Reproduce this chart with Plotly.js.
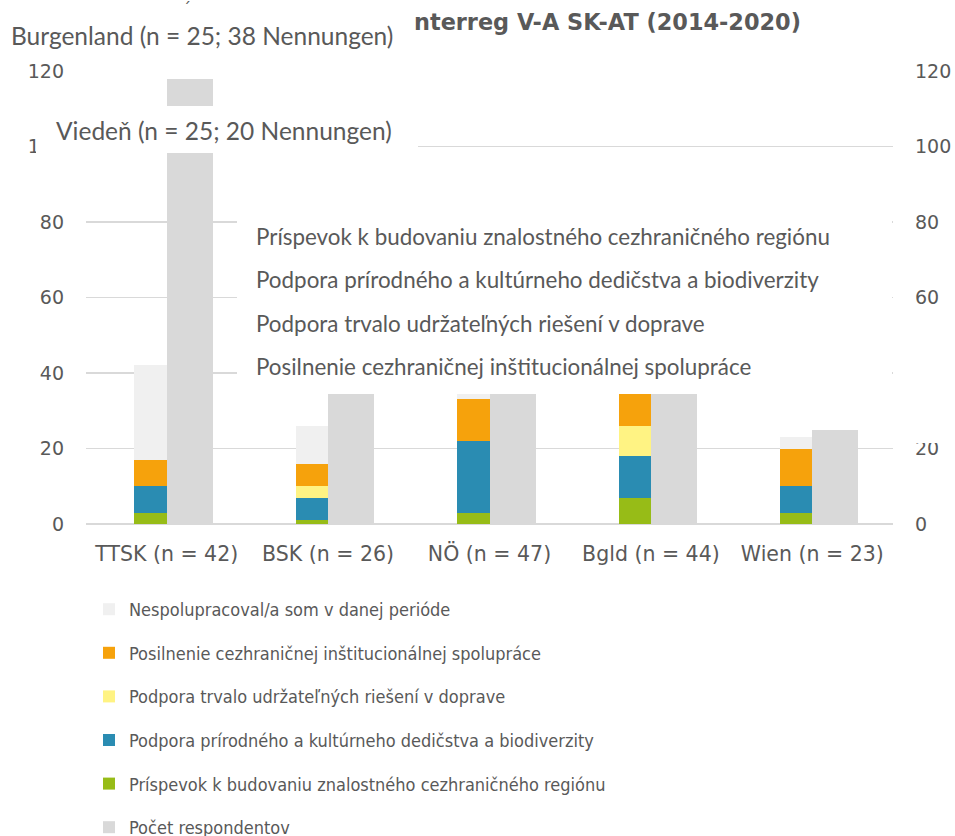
<!DOCTYPE html>
<html>
<head>
<meta charset="utf-8">
<script src="https://cdn.plot.ly/plotly-3.0.1.min.js"></script>
<style>html,body{margin:0;padding:0;background:#fff}#chart{width:955px;height:836px}</style>
</head>
<body>
<div id="chart"></div>
<script>
// ---- data ----
const categories = ["TTSK (n = 42)", "BSK (n = 26)", "NÖ (n = 47)", "Bgld (n = 44)", "Wien (n = 23)"];
const prispevok   = [3, 1, 3, 7, 3];        // Príspevok k budovaniu znalostného cezhraničného regiónu
const prirodne    = [7, 6, 19, 11, 7];      // Podpora prírodného a kultúrneho dedičstva a biodiverzity
const doprava     = [0, 3, 0, 8, 0];        // Podpora trvalo udržateľných riešení v doprave
const institucie  = [7, 6, 11, 8.5, 10];    // Posilnenie cezhraničnej inštitucionálnej spolupráce
const nespoluprac = [25, 10, 1.5, 0, 3];    // Nespolupracoval/a som v danej perióde
const respondenti = [118, 34.5, 34.5, 34.5, 25]; // Počet respondentov (visible heights)
const yTicks = [0, 20, 40, 60, 80, 100, 120];

const boxLines = [
  "Príspevok k budovaniu znalostného cezhraničného regiónu",
  "Podpora prírodného a kultúrneho dedičstva a biodiverzity",
  "Podpora trvalo udržateľných riešení v doprave",
  "Posilnenie cezhraničnej inštitucionálnej spolupráce"
];

// ---- layout helpers (plot area in pixels) ----
const W = 955, H = 836;
const PL = 86, PR = 893, PT = 71, PB = 524;
const px = v => (v - PL) / (PR - PL);
const py = v => (PB - v) / (PB - PT);

const TXT = "#595959";
const tickFont = {family: "DejaVu Sans, sans-serif", size: 19, color: TXT};
const catFont = {family: "DejaVu Sans, sans-serif", size: 20.5, color: TXT};
const boxFont = {family: "Lato, sans-serif", size: 24.5, color: TXT};

function stackTrace(name, vals, color, rank) {
  return {type: "bar", name: name, x: categories, y: vals, xaxis: "x", yaxis: "y",
    marker: {color: color, line: {width: 0}}, width: 0.2, offset: -0.2,
    legendgroup: name, legendrank: rank, hoverinfo: "skip"};
}

const traces = [
  stackTrace("Príspevok k budovaniu znalostného cezhraničného regiónu", prispevok, "#97BC17", 5),
  stackTrace("Podpora prírodného a kultúrneho dedičstva a biodiverzity", prirodne, "#2A8CB2", 4),
  stackTrace("Podpora trvalo udržateľných riešení v doprave", doprava, "#FFF383", 3),
  stackTrace("Posilnenie cezhraničnej inštitucionálnej spolupráce", institucie, "#F6A20C", 2),
  stackTrace("Nespolupracoval/a som v danej perióde", nespoluprac, "#F0F0F0", 1),
  {type: "bar", name: "Počet respondentov", x: categories, y: respondenti, xaxis: "x", yaxis: "y2",
    marker: {color: "#D9D9D9", line: {width: 0}}, width: 0.285, offset: 0,
    legendgroup: "resp", legendrank: 6, hoverinfo: "skip"}
];

const shapes = [];
const annotations = [];
function whiteBox(x0, y0, x1, y1) {
  shapes.push({type: "rect", xref: "paper", yref: "paper", layer: "above",
    x0: px(x0), x1: px(x1), y0: py(y1), y1: py(y0), fillcolor: "#FFFFFF", line: {width: 0}});
}
function label(text, x, y, font) {
  annotations.push({text: text, xref: "paper", yref: "paper", x: px(x), y: py(y),
    xanchor: "left", yanchor: "middle", showarrow: false, font: font});
}

// text boxes overlaid on the chart
whiteBox(0, 0, 416, 57);
label("Burgenland (n = 25; 38 Nennungen)", 9, 35, boxFont);
whiteBox(36, 106, 418, 153);
label("Viedeň (n = 25; 20 Nennungen)", 54, 130, boxFont);
whiteBox(237, 160, 892, 394);
whiteBox(893, 320, 955, 443);
const lineY = [236, 279, 323, 366];
boxLines.forEach((t, i) => label(t, 254, lineY[i], {family: "Lato, sans-serif", size: 22.4, color: TXT}));
// stray accent of the hidden title start
label("´", 181, 9, {family: "DejaVu Sans, sans-serif", size: 16, color: TXT});

const layout = {
  width: W, height: H,
  margin: {l: PL, r: W - PR, t: PT, b: H - PB, autoexpand: false},
  paper_bgcolor: "#FFFFFF", plot_bgcolor: "#FFFFFF",
  barmode: "stack",
  showlegend: true,
  title: {text: "<b>nterreg V-A SK-AT (2014-2020)</b>", xref: "container", yref: "container",
    x: 414 / W, xanchor: "left", y: 1 - 22 / H, yanchor: "middle",
    font: {family: "DejaVu Sans, sans-serif", size: 22.4, color: TXT}},
  xaxis: {type: "category", range: [-0.5, 4.5], showgrid: false, showline: false, zeroline: false,
    ticks: "", tickangle: 0, tickfont: catFont, ticklabelstandoff: 15, fixedrange: true},
  yaxis: {range: [0, 120], tickvals: yTicks, showgrid: true, gridcolor: "#D9D9D9", gridwidth: 1.5,
    zeroline: true, zerolinecolor: "#D9D9D9", zerolinewidth: 2, showline: false,
    ticks: "", tickfont: tickFont, ticklabelstandoff: 21, fixedrange: true},
  yaxis2: {range: [0, 120], tickvals: yTicks, overlaying: "y", side: "right", showgrid: false,
    zeroline: false, showline: false, ticks: "", tickfont: tickFont, ticklabelstandoff: 21, fixedrange: true},
  legend: {orientation: "v", traceorder: "grouped", tracegroupgap: 17.2,
    xref: "container", yref: "container", x: 89 / W, xanchor: "left", y: 1 - 591 / H, yanchor: "top",
    font: {family: "DejaVu Sans Condensed, DejaVu Sans, sans-serif", size: 18, color: TXT},
    bgcolor: "rgba(0,0,0,0)", itemclick: false, itemdoubleclick: false},
  shapes: shapes,
  annotations: annotations
};

Plotly.newPlot("chart", traces, layout, {displayModeBar: false, staticPlot: true});
</script>
</body>
</html>
